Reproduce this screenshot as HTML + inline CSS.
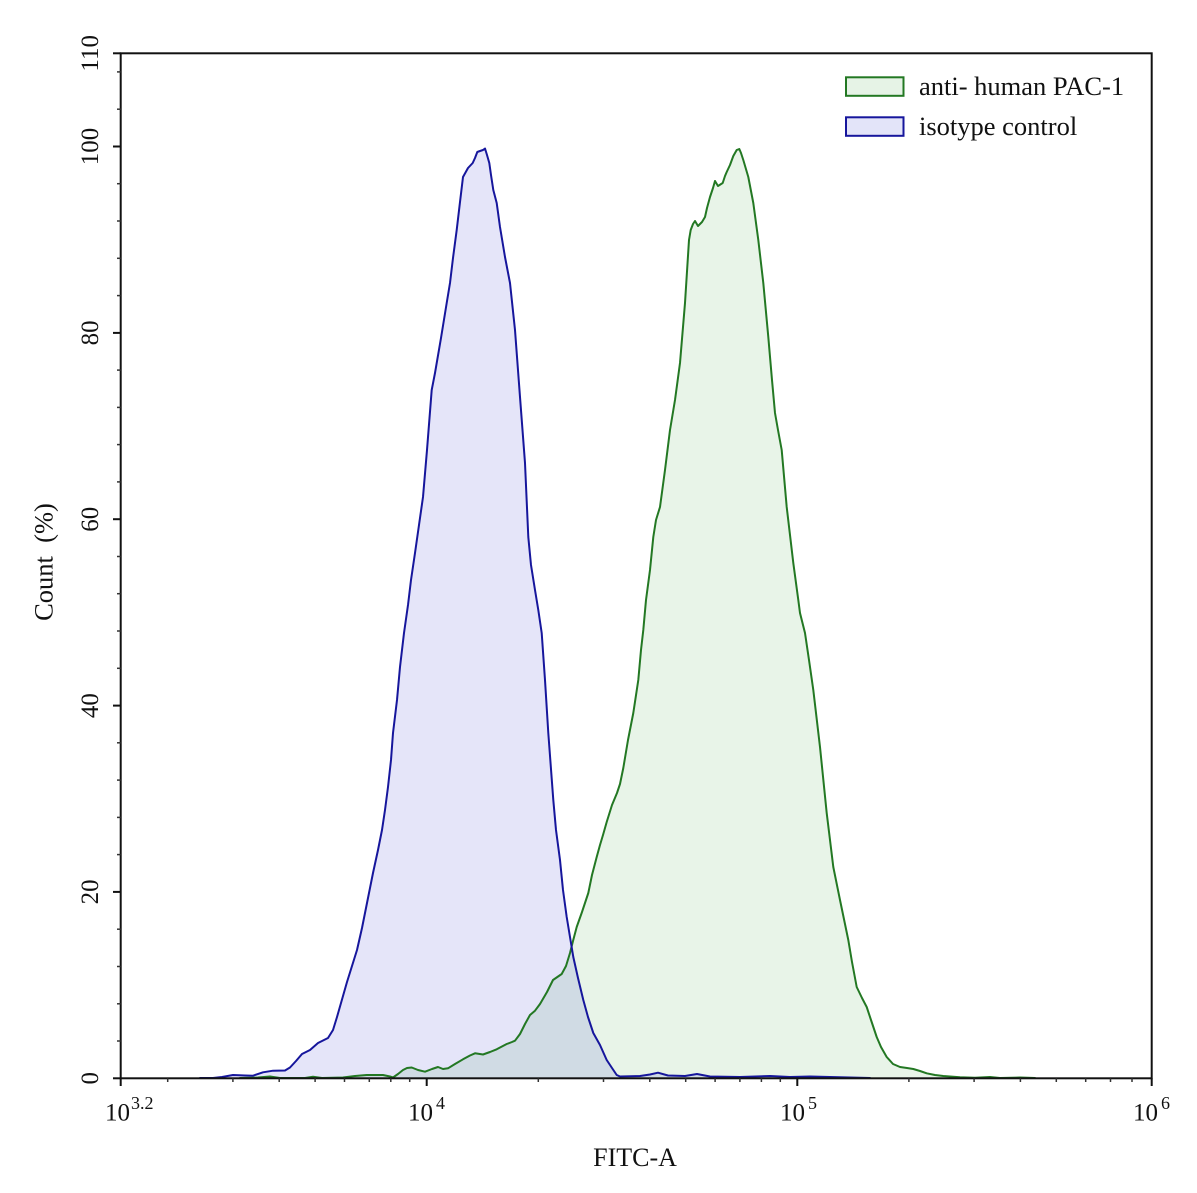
<!DOCTYPE html>
<html>
<head>
<meta charset="utf-8">
<style>
  html, body { margin: 0; padding: 0; background: #ffffff; }
  svg { display: block; }
  text { font-family: "Liberation Serif", "DejaVu Serif", serif; fill: #111; }
</style>
</head>
<body>
<svg width="1197" height="1193" viewBox="0 0 1197 1193" xmlns="http://www.w3.org/2000/svg">
  <rect x="0" y="0" width="1197" height="1193" fill="#ffffff"/>

  <!-- green fill -->
  <polygon fill="rgba(0,128,0,0.09)" stroke="none" points="
240,1078 258,1077.5 270,1076.5 280,1078 305,1078 313,1076.8 322,1078 343,1077.5 355,1076 366.7,1075 383,1075 390,1076.5 393,1077.5 398,1074 403,1070 407,1068 411.7,1067.5 418,1070 425,1071.7 432,1069 438,1067 443,1069 448,1068.3 455,1064 463,1059.3 470,1055.5 475,1053.3 483,1054.5 490,1052 496.7,1049.3 506.7,1044 512,1042 515,1040.7 520,1034 525,1024 530,1015 535,1010.7 540,1004 547,992 553,980 561.7,974 566,966 570,953 573,941 576.7,927 582,912 588.3,893 592,875 596.7,857 600,845 603,835 606.7,822 612,805 617,793 620,784 623.3,768 628,740 633.3,713 638.3,680 641,650 643.3,630 646,600 650,570 653.3,537 656,520 660,507 665,470 670,430 675,400 680,363 685,303 689,240 690.7,230 693,224 695,221 698,226 702,222 705,217 707,208 710,197 713,188 715,181 718,186 722.7,183 725,176 726.7,172 730,165 733.3,156 736.7,150 739.3,149 741,153 743.3,160 748.3,177 753.3,203 758.3,240 763.3,283 768.3,337 772,380 775,413 778,430 781.7,450 786.7,507 793.3,563 798.3,600 800,613 805,633 809,660 813.3,690 820,747 826.7,813 833.3,867 840,900 848.3,940 852,962 856.7,987 862,998 866.7,1007 871,1020 876.7,1037 881,1047 886.7,1057 893,1064 900,1067 907,1068 913.3,1069 920,1071 926.7,1073.3 935,1075 943.3,1076 960,1077.3 975,1077.8 990,1077 1000,1078 1020,1077.5 1035,1078"/>

  <!-- blue fill -->
  <polygon fill="rgba(0,0,200,0.1)" stroke="none" points="
200,1078 213,1078 222,1077 233,1075 245,1075.5 253,1075.7 263,1072.3 273,1070.7 285,1070.5 290,1067.5 296,1061 302,1054 310,1050 318,1043 328,1038 333,1030 337,1017 341,1003 347,982 352,966 357,950 362,928 367,903 373,873 378,850 382,830 385,810 388,787 391,760 393,733 397,700 400,667 404,633 408,605 411,580 415,553 419,525 423,497 427,450 431.7,390 435,373 441,338 446.7,303 450,283 453,258 456.7,230 460,202 463,177 468,168 472.7,163 475,158 477.3,152 480,151 483,150 485,148.5 487,155 489.3,163 491,175 493.3,190 496.7,203 500,227 505,257 510,283 515,330 520,397 525,463 528.3,537 531,565 535,590 538.3,610 541.7,633 545,680 548.3,733 553.3,800 556,830 560,860 563,890 566.7,917 570,937 573.3,957 578,978 583.3,1000 588,1017 593.3,1033 600,1045 606.7,1060 612,1068 616.7,1075 620,1076.5 640,1076 650,1074.5 658,1072.7 668,1075.5 685,1076 697,1074 710,1076.5 740,1077 770,1076 790,1077 810,1076.5 850,1077.5 870,1078"/>

  <!-- green line -->
  <polyline fill="none" stroke="#237823" stroke-width="2" stroke-linejoin="round" stroke-linecap="round" points="
240,1078 258,1077.5 270,1076.5 280,1078 305,1078 313,1076.8 322,1078 343,1077.5 355,1076 366.7,1075 383,1075 390,1076.5 393,1077.5 398,1074 403,1070 407,1068 411.7,1067.5 418,1070 425,1071.7 432,1069 438,1067 443,1069 448,1068.3 455,1064 463,1059.3 470,1055.5 475,1053.3 483,1054.5 490,1052 496.7,1049.3 506.7,1044 512,1042 515,1040.7 520,1034 525,1024 530,1015 535,1010.7 540,1004 547,992 553,980 561.7,974 566,966 570,953 573,941 576.7,927 582,912 588.3,893 592,875 596.7,857 600,845 603,835 606.7,822 612,805 617,793 620,784 623.3,768 628,740 633.3,713 638.3,680 641,650 643.3,630 646,600 650,570 653.3,537 656,520 660,507 665,470 670,430 675,400 680,363 685,303 689,240 690.7,230 693,224 695,221 698,226 702,222 705,217 707,208 710,197 713,188 715,181 718,186 722.7,183 725,176 726.7,172 730,165 733.3,156 736.7,150 739.3,149 741,153 743.3,160 748.3,177 753.3,203 758.3,240 763.3,283 768.3,337 772,380 775,413 778,430 781.7,450 786.7,507 793.3,563 798.3,600 800,613 805,633 809,660 813.3,690 820,747 826.7,813 833.3,867 840,900 848.3,940 852,962 856.7,987 862,998 866.7,1007 871,1020 876.7,1037 881,1047 886.7,1057 893,1064 900,1067 907,1068 913.3,1069 920,1071 926.7,1073.3 935,1075 943.3,1076 960,1077.3 975,1077.8 990,1077 1000,1078 1020,1077.5 1035,1078"/>

  <!-- blue line -->
  <polyline fill="none" stroke="#16169c" stroke-width="2" stroke-linejoin="round" stroke-linecap="round" points="
200,1078 213,1078 222,1077 233,1075 245,1075.5 253,1075.7 263,1072.3 273,1070.7 285,1070.5 290,1067.5 296,1061 302,1054 310,1050 318,1043 328,1038 333,1030 337,1017 341,1003 347,982 352,966 357,950 362,928 367,903 373,873 378,850 382,830 385,810 388,787 391,760 393,733 397,700 400,667 404,633 408,605 411,580 415,553 419,525 423,497 427,450 431.7,390 435,373 441,338 446.7,303 450,283 453,258 456.7,230 460,202 463,177 468,168 472.7,163 475,158 477.3,152 480,151 483,150 485,148.5 487,155 489.3,163 491,175 493.3,190 496.7,203 500,227 505,257 510,283 515,330 520,397 525,463 528.3,537 531,565 535,590 538.3,610 541.7,633 545,680 548.3,733 553.3,800 556,830 560,860 563,890 566.7,917 570,937 573.3,957 578,978 583.3,1000 588,1017 593.3,1033 600,1045 606.7,1060 612,1068 616.7,1075 620,1076.5 640,1076 650,1074.5 658,1072.7 668,1075.5 685,1076 697,1074 710,1076.5 740,1077 770,1076 790,1077 810,1076.5 850,1077.5 870,1078"/>

  <!-- frame -->
  <rect x="120.7" y="53.3" width="1031" height="1025" fill="none" stroke="#111" stroke-width="2"/>

  <!-- y ticks -->
  <g stroke="#111" stroke-width="2">
    <line x1="113" y1="1078.3" x2="120.7" y2="1078.3"/>
    <line x1="113" y1="891.9" x2="120.7" y2="891.9"/>
    <line x1="113" y1="705.6" x2="120.7" y2="705.6"/>
    <line x1="113" y1="519.2" x2="120.7" y2="519.2"/>
    <line x1="113" y1="332.9" x2="120.7" y2="332.9"/>
    <line x1="113" y1="146.5" x2="120.7" y2="146.5"/>
    <line x1="113" y1="53.3" x2="120.7" y2="53.3"/>
  </g>
  <g stroke="#333" stroke-width="1.5">
    <line x1="117" y1="1041.0" x2="120.7" y2="1041.0"/>
    <line x1="117" y1="1003.8" x2="120.7" y2="1003.8"/>
    <line x1="117" y1="966.5" x2="120.7" y2="966.5"/>
    <line x1="117" y1="929.2" x2="120.7" y2="929.2"/>
    <line x1="117" y1="854.6" x2="120.7" y2="854.6"/>
    <line x1="117" y1="817.4" x2="120.7" y2="817.4"/>
    <line x1="117" y1="780.1" x2="120.7" y2="780.1"/>
    <line x1="117" y1="742.8" x2="120.7" y2="742.8"/>
    <line x1="117" y1="668.3" x2="120.7" y2="668.3"/>
    <line x1="117" y1="631.0" x2="120.7" y2="631.0"/>
    <line x1="117" y1="593.7" x2="120.7" y2="593.7"/>
    <line x1="117" y1="556.5" x2="120.7" y2="556.5"/>
    <line x1="117" y1="481.9" x2="120.7" y2="481.9"/>
    <line x1="117" y1="444.6" x2="120.7" y2="444.6"/>
    <line x1="117" y1="407.4" x2="120.7" y2="407.4"/>
    <line x1="117" y1="370.1" x2="120.7" y2="370.1"/>
    <line x1="117" y1="295.6" x2="120.7" y2="295.6"/>
    <line x1="117" y1="258.3" x2="120.7" y2="258.3"/>
    <line x1="117" y1="221.0" x2="120.7" y2="221.0"/>
    <line x1="117" y1="183.7" x2="120.7" y2="183.7"/>
    <line x1="117" y1="109.2" x2="120.7" y2="109.2"/>
    <line x1="117" y1="71.9" x2="120.7" y2="71.9"/>
  </g>

  <!-- x ticks -->
  <g stroke="#111" stroke-width="2">
    <line x1="120.7" y1="1078.3" x2="120.7" y2="1086"/>
    <line x1="426.7" y1="1078.3" x2="426.7" y2="1086"/>
    <line x1="797.3" y1="1078.3" x2="797.3" y2="1086"/>
    <line x1="1151.7" y1="1078.3" x2="1151.7" y2="1086"/>
  </g>
  <g stroke="#333" stroke-width="1.5">
    <line x1="167.7" y1="1078.3" x2="167.7" y2="1082"/>
    <line x1="232.9" y1="1078.3" x2="232.9" y2="1082"/>
    <line x1="279.2" y1="1078.3" x2="279.2" y2="1082"/>
    <line x1="315.1" y1="1078.3" x2="315.1" y2="1082"/>
    <line x1="344.5" y1="1078.3" x2="344.5" y2="1082"/>
    <line x1="369.3" y1="1078.3" x2="369.3" y2="1082"/>
    <line x1="390.8" y1="1078.3" x2="390.8" y2="1082"/>
    <line x1="409.7" y1="1078.3" x2="409.7" y2="1082"/>
    <line x1="538.3" y1="1078.3" x2="538.3" y2="1082"/>
    <line x1="603.5" y1="1078.3" x2="603.5" y2="1082"/>
    <line x1="649.8" y1="1078.3" x2="649.8" y2="1082"/>
    <line x1="685.7" y1="1078.3" x2="685.7" y2="1082"/>
    <line x1="715.1" y1="1078.3" x2="715.1" y2="1082"/>
    <line x1="739.9" y1="1078.3" x2="739.9" y2="1082"/>
    <line x1="761.4" y1="1078.3" x2="761.4" y2="1082"/>
    <line x1="780.3" y1="1078.3" x2="780.3" y2="1082"/>
    <line x1="908.9" y1="1078.3" x2="908.9" y2="1082"/>
    <line x1="974.1" y1="1078.3" x2="974.1" y2="1082"/>
    <line x1="1020.4" y1="1078.3" x2="1020.4" y2="1082"/>
    <line x1="1056.3" y1="1078.3" x2="1056.3" y2="1082"/>
    <line x1="1085.7" y1="1078.3" x2="1085.7" y2="1082"/>
    <line x1="1110.5" y1="1078.3" x2="1110.5" y2="1082"/>
    <line x1="1132.0" y1="1078.3" x2="1132.0" y2="1082"/>
  </g>

  <!-- y tick labels (rotated) -->
  <g font-size="25" text-anchor="middle">
    <text transform="translate(98,1078.3) rotate(-90)">0</text>
    <text transform="translate(98,891.9) rotate(-90)">20</text>
    <text transform="translate(98,705.6) rotate(-90)">40</text>
    <text transform="translate(98,519.2) rotate(-90)">60</text>
    <text transform="translate(98,332.9) rotate(-90)">80</text>
    <text transform="translate(98,146.5) rotate(-90)">100</text>
    <text transform="translate(98,53.3) rotate(-90)">110</text>
  </g>

  <!-- x tick labels -->
  <g font-size="25">
    <text x="105" y="1120.5">10</text>
    <text x="408" y="1120.5">10</text>
    <text x="780" y="1120.5">10</text>
    <text x="1133" y="1120.5">10</text>
  </g>
  <g font-size="18">
    <text x="131" y="1109">3.2</text>
    <text x="436" y="1109">4</text>
    <text x="808" y="1109">5</text>
    <text x="1161" y="1109">6</text>
  </g>

  <!-- axis titles -->
  <text x="635" y="1166" font-size="26" text-anchor="middle">FITC-A</text>
  <text transform="translate(52.5,562) rotate(-90)" font-size="26.5" text-anchor="middle">Count&#160;&#160;(%)</text>

  <!-- legend -->
  <rect x="846" y="77.3" width="57.5" height="18.5" fill="#e6f3e6" stroke="#237823" stroke-width="2"/>
  <rect x="846" y="117.3" width="57.5" height="18.5" fill="#e3e4f9" stroke="#16169c" stroke-width="2"/>
  <text x="919" y="95" font-size="26.5">anti- human PAC-1</text>
  <text x="919" y="135" font-size="26.5">isotype control</text>
</svg>
</body>
</html>
